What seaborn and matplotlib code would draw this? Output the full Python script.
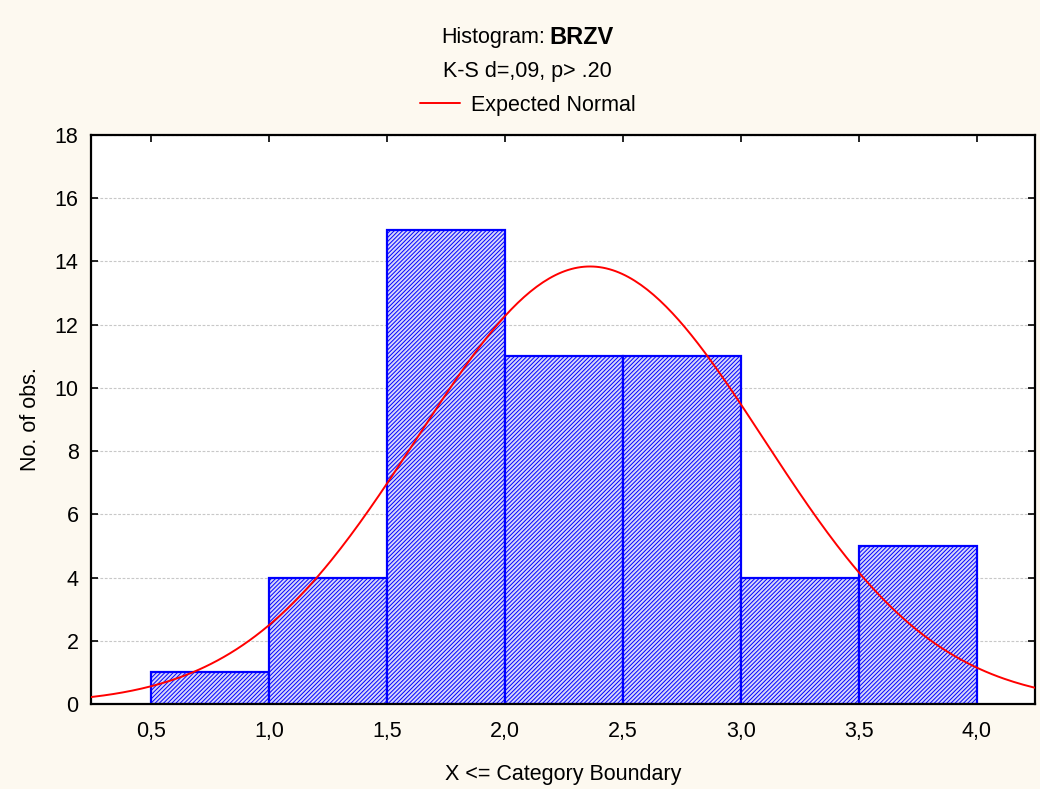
import numpy as np
import pandas as pd
import matplotlib
matplotlib.use("Agg")
import matplotlib.pyplot as plt
import seaborn as sns
from matplotlib.lines import Line2D
from matplotlib.ticker import FuncFormatter

# histogram data
bin_edges = [0.5, 1.0, 1.5, 2.0, 2.5, 3.0, 3.5, 4.0]
counts = [1, 4, 15, 11, 11, 4, 5]
x_ticks = [0.5, 1.0, 1.5, 2.0, 2.5, 3.0, 3.5, 4.0]
y_ticks = [0, 2, 4, 6, 8, 10, 12, 14, 16, 18]

# fitted normal parameters
norm_mean = 2.36
norm_sd = 0.735

sns.set_style("white")
plt.rcParams['font.family'] = ['Liberation Sans', 'DejaVu Sans']
plt.rcParams['hatch.linewidth'] = 0.7
plt.rcParams['text.color'] = 'black'
plt.rcParams['axes.labelcolor'] = 'black'
plt.rcParams['xtick.color'] = 'black'
plt.rcParams['ytick.color'] = 'black'

fs = 15.5
bg = '#fdf9f0'
fig = plt.figure(figsize=(10.4, 7.89), dpi=100, facecolor=bg)
ax = fig.add_axes([0.0875, 0.1077, 0.9075, 0.7212])
ax.set_facecolor('white')

mids = [(a + b) / 2 for a, b in zip(bin_edges[:-1], bin_edges[1:])]
df = pd.DataFrame({"mid": mids, "n": counts})
sns.histplot(data=df, x="mid", weights="n", bins=bin_edges, ax=ax,
             color='#d6d6fa', edgecolor='#0000ff', linewidth=1.6,
             alpha=1, zorder=2)
for p in ax.patches:
    p.set_facecolor('#d6d6fa')
    p.set_edgecolor('#0000ff')
    p.set_hatch('////////')

# expected normal curve
n_total = sum(counts)
width = bin_edges[1] - bin_edges[0]
xs = np.linspace(0.245, 4.25, 300)
ys = n_total * width * np.exp(-0.5 * ((xs - norm_mean) / norm_sd) ** 2) / (norm_sd * np.sqrt(2 * np.pi))
sns.lineplot(x=xs, y=ys, ax=ax, color='#ff0000', linewidth=1.4, zorder=3)

ax.set_xlim(0.245, 4.245)
ax.set_ylim(0, 18)
ax.set_xticks(x_ticks)
ax.set_yticks(y_ticks)
ax.xaxis.set_major_formatter(FuncFormatter(lambda v, p: f"{v:.1f}".replace('.', ',')))
ax.tick_params(direction='in', length=5, width=1.2, labelsize=fs,
               top=True, right=True, bottom=True, left=True, color='black')
ax.tick_params(axis='x', pad=12)
ax.tick_params(axis='y', pad=9)
ax.yaxis.grid(True, linestyle=(0, (2.5, 1.5)), color='#c8c8c8', linewidth=0.8, zorder=0)
ax.set_axisbelow(True)
for s in ax.spines.values():
    s.set_color('black')
    s.set_linewidth(1.6)

ax.set_xlabel("X <= Category Boundary", fontsize=fs, labelpad=16)
ax.set_ylabel("No. of obs.", fontsize=fs, labelpad=10)

# titles
fig.text(545 / 1040, 1 - 38 / 789, "Histogram:", ha='right', va='center', fontsize=fs)
fig.text(549 / 1040, 1 - 38 / 789, "BRZV", ha='left', va='center', fontsize=17, fontweight='bold')
fig.text(527 / 1040, 1 - 72 / 789, "K-S d=,09, p> .20", ha='center', va='center', fontsize=fs)
handle = Line2D([0], [0], color='#ff0000', linewidth=1.4)
fig.legend([handle], ["Expected Normal"], loc='center', bbox_to_anchor=(528 / 1040, 1 - 105 / 789),
           frameon=False, fontsize=fs, handlelength=1.85, handletextpad=0.55)

fig.savefig("out.png", dpi=100, facecolor=bg)
